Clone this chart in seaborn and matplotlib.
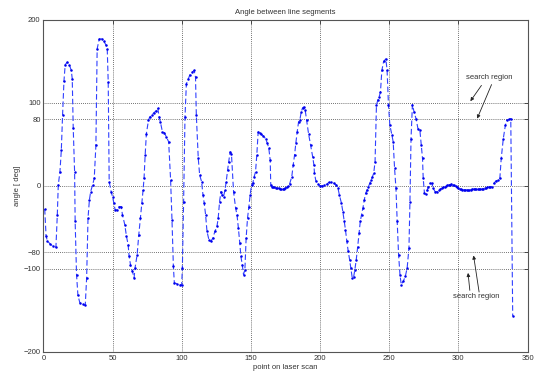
import matplotlib
matplotlib.use("Agg")
import matplotlib.pyplot as plt
import seaborn as sns
import pandas as pd

# ---- data ----
point_index = [
    1.0, 2.0, 2.9, 4.8, 7.2, 9.1, 10.1, 10.8, 12.0, 13.0,
    13.9, 14.9, 15.8, 17.3, 18.8, 20.2, 20.9, 21.6, 22.6, 23.0,
    24.0, 25.0, 26.4, 28.8, 30.3, 31.3, 32.3, 33.3, 34.2, 35.6,
    36.8, 38.0, 38.9, 40.4, 42.3, 43.8, 45.2, 46.2, 46.9, 47.6,
    49.0, 50.0, 51.0, 51.9, 53.4, 54.8, 56.3, 57.2, 58.9, 60.1,
    61.3, 62.0, 63.0, 64.4, 65.6, 66.3, 67.8, 69.0, 70.2, 71.2,
    72.1, 72.8, 73.6, 74.5, 76.0, 76.9, 78.4, 79.8, 81.3, 82.7,
    83.7, 84.6, 86.1, 87.5, 88.9, 90.6, 92.0, 93.0, 94.0, 94.7,
    96.6, 98.6, 100.0, 100.5, 101.4, 102.4, 103.4, 104.8, 106.0, 107.7,
    109.0, 110.0, 110.6, 112.0, 113.0, 114.4, 115.4, 116.3, 117.3, 118.3,
    119.7, 121.0, 122.6, 124.0, 125.5, 126.4, 127.4, 128.4, 129.3, 130.3,
    131.3, 132.2, 133.2, 134.0, 135.0, 136.0, 137.5, 139.0, 140.0, 141.0,
    142.0, 142.8, 143.8, 144.7, 145.7, 146.6, 147.6, 148.6, 149.5, 150.5,
    151.4, 152.4, 153.4, 154.3, 155.3, 156.3, 157.7, 159.0, 160.6, 162.0,
    163.0, 164.0, 164.4, 165, 166, 167, 168, 169, 170, 171,
    172, 173, 174, 175, 176, 177, 178, 179.6, 180.6, 181.6,
    182.5, 183.5, 184.5, 185.4, 186.4, 187.4, 188.3, 189.3, 190.3, 191.7,
    193.2, 194.7, 195.6, 196.0, 197.0, 198.5, 200.0, 201.5, 203.0, 204.9,
    206.3, 208.3, 210.2, 211.7, 213.0, 214.0, 215.5, 216.5, 217.5, 218.4,
    219.4, 220.4, 221.4, 222.3, 223.3, 224.3, 225.2, 226.2, 227.2, 228.2,
    229.1, 230.0, 231.0, 232.0, 233.0, 234.0, 235.0, 236.0, 236.9, 237.9,
    238.8, 239.8, 240.8, 241.7, 242.7, 243.7, 244.7, 246.0, 247.6, 248.5,
    249.5, 250.5, 252.0, 252.9, 253.9, 254.9, 255.8, 256.8, 257.8, 258.7,
    260.2, 261.7, 263.0, 264.3, 265.0, 265.8, 266.8, 268.0, 269.4, 270.8,
    272.2, 273.2, 274.1, 274.6, 275.5, 276.5, 277.5, 278.4, 279.3, 280.8,
    281.8, 283.2, 284.7, 286, 287, 288, 289, 290, 291, 292,
    293, 294, 295, 296, 297, 298, 299, 300, 301, 302,
    303, 304, 305, 306, 307, 308, 309, 310, 311, 312,
    313, 314, 315, 316, 317, 318, 319, 320, 321, 322,
    323, 324, 325.7, 327.2, 329.0, 330.0, 331.0, 332.5, 334.0, 335.0,
    336.4, 337.9, 339.3,
]
angle_deg = [
    -28, -61, -66, -70, -73, -74, -35, 1, 17, 43,
    85, 126, 146, 149, 146, 139, 129, 70, 17, -43,
    -107, -132, -141, -143, -144, -111, -39, -17, -7, 1,
    9, 49, 165, 177, 177, 174, 170, 165, 125, 5,
    -7, -13, -21, -29, -29, -25, -25, -35, -47, -61,
    -71, -85, -95, -103, -111, -99, -83, -59, -39, -21,
    -5, 9, 37, 63, 79, 83, 85, 88, 90, 94,
    83, 77, 65, 64, 59, 53, 7, -41, -97, -117,
    -118, -119, -120, -99, -19, 83, 123, 129, 134, 137,
    139, 131, 85, 33, 13, 5, -11, -21, -35, -55,
    -65, -67, -63, -55, -49, -39, -19, -7, -11, -13,
    -5, 5, 19, 29, 41, 38, -7, -27, -35, -51,
    -69, -85, -95, -107, -101, -63, -39, -25, -11, 1,
    3, 11, 17, 37, 65, 64, 62, 60, 57, 51,
    45, 31, 1, -1, -1.5, -2, -2.5, -3, -3, -3.5,
    -4, -4, -3.5, -2.5, -1.5, 0, 2, 11, 25, 37,
    51, 65, 77, 79, 89, 94, 95, 91, 79, 63,
    49, 35, 25, 15, 6, 2, 0, 0, 1, 2,
    4, 4, 3, 1, -3, -11, -21, -31, -43, -53,
    -67, -79, -89, -99, -111, -110, -101, -89, -74, -57,
    -43, -35, -27, -17, -9, -5, -1, 3, 7, 11,
    15, 29, 97, 103, 107, 113, 139, 150, 153, 139,
    97, 73, 61, 53, 21, -3, -43, -83, -107, -119,
    -115, -109, -99, -75, -20, 57, 98, 89, 81, 69,
    67, 49, 33, 9, -9, -10, -5, -1, 3, 3,
    -3, -7, -7, -5, -4, -3, -2, -1, 0, 0.5,
    1, 1.5, 2, 1.5, 0.5, -0.5, -2, -3, -3.5, -4,
    -4.5, -5, -5, -5, -5, -5, -4.5, -4, -4, -4,
    -4, -4, -4, -4, -4, -3.5, -3, -2.5, -2, -1.5,
    -1, -1, 3, 6, 7, 9, 33, 57, 73, 79,
    80, 81, -157,
]
assert len(point_index) == len(angle_deg)

x_ticks = [0, 50, 100, 150, 200, 250, 300, 350]
y_ticks = [-200, -100, -80, 0, 80, 100, 200]
title_text = "Angle between line segments"
x_label = "point on laser scan"
y_label = "angle [ deg]"
annot_text = "search region"

df = pd.DataFrame({"idx": point_index, "angle": angle_deg})

sns.set_theme(style="white")
plt.rcParams["font.family"] = ["Liberation Sans", "DejaVu Sans"]

fig = plt.figure(figsize=(5.35, 3.75), dpi=100)
ax = fig.add_axes([0.081, 0.062, 0.905, 0.885])

sns.lineplot(data=df, x="idx", y="angle", sort=False, estimator=None,
             ax=ax, color="#3040ff", linewidth=0.8, linestyle=(0, (5, 2.5)),
             marker="o", markersize=1.8, markeredgewidth=0,
             markerfacecolor="#0000ee")

ax.set_xlim(0, 350)
ax.set_ylim(-200, 200)
ax.set_xticks(x_ticks)
ax.set_yticks(y_ticks)
ax.grid(True, linestyle=(0, (1, 1.5)), color="#444444", linewidth=0.6)
ax.tick_params(direction="in", top=True, right=True, length=3, width=0.6,
               labelsize=5.5, colors="#333333", pad=2)
for s in ax.spines.values():
    s.set_color("#555555")
    s.set_linewidth(0.8)

ax.set_title(title_text, fontsize=5.5, color="#333333", pad=4)
ax.set_xlabel(x_label, fontsize=5.5, color="#333333", labelpad=2)
ax.set_ylabel(y_label, fontsize=5.5, color="#333333", labelpad=2)

arrow_kw = dict(arrowstyle="-|>", color="#222222", lw=0.6, mutation_scale=5,
                shrinkA=0, shrinkB=0)
ax.text(322, 130, annot_text, fontsize=5.5, color="#333333",
        ha="center", va="center")
ax.annotate("", xy=(308.7, 102), xytext=(316.7, 121), arrowprops=arrow_kw)
ax.annotate("", xy=(313.6, 81), xytext=(324, 122), arrowprops=arrow_kw)

ax.text(313, -134, annot_text, fontsize=5.5, color="#333333",
        ha="center", va="center")
ax.annotate("", xy=(307, -105), xytext=(308.3, -126), arrowprops=arrow_kw)
ax.annotate("", xy=(311, -84), xytext=(315, -128), arrowprops=arrow_kw)

fig.savefig("out.png", dpi=100)
